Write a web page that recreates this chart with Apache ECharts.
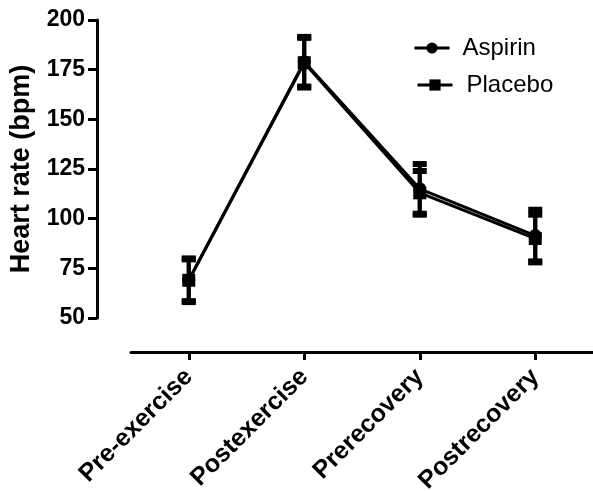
<!DOCTYPE html>
<html>
<head>
<meta charset="utf-8">
<script src="https://cdn.jsdelivr.net/npm/echarts@6/dist/echarts.min.js"></script>
<style>html,body{margin:0;padding:0;background:#fff;}#c{width:593px;height:491px;}</style>
</head>
<body>
<div id="c"></div>
<script>
var categories = ['Pre-exercise', 'Postexercise', 'Prerecovery', 'Postrecovery'];
var aspirinMean = [69, 179, 115, 91.5];
var aspirinErr = [11, 12.5, 12.5, 13];
var placeboMean = [69, 178.5, 113, 90];
var placeboErr = [10.5, 12.5, 11, 12];
var yTicks = [50, 75, 100, 125, 150, 175, 200];

var FONT = "'Liberation Sans', Arial, sans-serif";

function errData(mean, err) {
  return mean.map(function (m, i) { return [i, m - err[i], m + err[i]]; });
}

function renderErr(params, api) {
  var x = api.value(0);
  var lo = api.coord([x, api.value(1)]);
  var hi = api.coord([x, api.value(2)]);
  return {
    type: 'group',
    children: [
      { type: 'rect', shape: { x: hi[0] - 2, y: hi[1], width: 4, height: lo[1] - hi[1] }, style: { fill: '#000' } },
      { type: 'rect', shape: { x: hi[0] - 7, y: hi[1] - 3, width: 14, height: 6 }, style: { fill: '#000' } },
      { type: 'rect', shape: { x: lo[0] - 7, y: lo[1] - 3, width: 14, height: 6 }, style: { fill: '#000' } }
    ]
  };
}

var chart = echarts.init(document.getElementById('c'), null, { renderer: 'canvas' });
chart.setOption({
  animation: false,
  backgroundColor: '#fff',
  grid: { left: 131, right: 0, top: 20, bottom: 173, outerBoundsMode: 'none', containLabel: false },
  legend: [
    {
      data: ['Aspirin'], left: 408, top: 31, orient: 'vertical',
      itemWidth: 35, itemHeight: 14,
      lineStyle: { width: 3, color: '#000' },
      textStyle: { fontFamily: FONT, fontSize: 24, color: '#000', padding: [0, 0, 0, 8] }
    },
    {
      data: ['Placebo'], left: 411, top: 68, orient: 'vertical',
      itemWidth: 35, itemHeight: 14,
      lineStyle: { width: 3, color: '#000' },
      textStyle: { fontFamily: FONT, fontSize: 24, color: '#000', padding: [0, 0, 0, 9] }
    }
  ],
  xAxis: {
    type: 'category',
    data: categories,
    offset: 34,
    boundaryGap: true,
    axisLine: { lineStyle: { color: '#000', width: 3 } },
    axisTick: { show: true, alignWithLabel: true, length: 8, lineStyle: { color: '#000', width: 3 } },
    axisLabel: { rotate: 45, fontFamily: FONT, fontWeight: 'bold', fontSize: 25, color: '#000', margin: 21, interval: 0 },
    splitLine: { show: false }
  },
  yAxis: {
    type: 'value',
    min: 50, max: 200, interval: 25,
    offset: 34,
    name: 'Heart rate (bpm)',
    nameLocation: 'middle',
    nameGap: 62,
    nameTextStyle: { fontFamily: FONT, fontWeight: 'bold', fontSize: 27, color: '#000' },
    axisLine: { show: true, lineStyle: { color: '#000', width: 3 } },
    axisTick: { show: true, length: 9, lineStyle: { color: '#000', width: 3 } },
    axisLabel: {
      fontFamily: FONT, fontWeight: 'bold', fontSize: 23, color: '#000', margin: 12,
      formatter: function (v) { return yTicks.indexOf(v) >= 0 ? String(v) : ''; }
    },
    splitLine: { show: false }
  },
  series: [
    {
      name: 'Aspirin', type: 'line', data: aspirinMean,
      symbol: 'circle', symbolSize: 13,
      itemStyle: { color: '#000' },
      lineStyle: { color: '#000', width: 3 },
      z: 3
    },
    {
      name: 'Placebo', type: 'line', data: placeboMean,
      symbol: 'rect', symbolSize: 13,
      itemStyle: { color: '#000' },
      lineStyle: { color: '#000', width: 3 },
      z: 3
    },
    {
      name: 'AspirinErr', type: 'custom', data: errData(aspirinMean, aspirinErr),
      renderItem: renderErr, encode: { x: 0, y: [1, 2] }, z: 2, silent: true
    },
    {
      name: 'PlaceboErr', type: 'custom', data: errData(placeboMean, placeboErr),
      renderItem: renderErr, encode: { x: 0, y: [1, 2] }, z: 2, silent: true
    }
  ]
});
</script>
</body>
</html>
